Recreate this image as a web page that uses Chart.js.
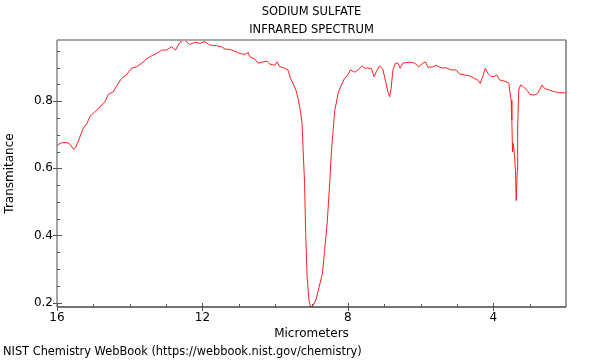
<!DOCTYPE html>
<html>
<head>
<meta charset="utf-8">
<script src="https://cdn.jsdelivr.net/npm/chart.js@4/dist/chart.umd.min.js"></script>
<style>
  html, body { margin: 0; padding: 0; background: #fff; }
  #wrap { width: 600px; height: 360px; }
</style>
</head>
<body>
<div id="wrap"><canvas id="spectrum" width="600" height="360"></canvas></div>
<script>
// wavelength in micrometers
const wavelength = [16.00,15.87,15.73,15.64,15.55,15.49,15.37,15.28,15.18,15.09,
  14.96,14.82,14.68,14.59,14.45,14.36,14.22,14.09,13.95,13.81,
  13.67,13.54,13.40,13.26,13.12,12.99,12.85,12.74,12.62,12.53,
  12.48,12.35,12.21,12.07,11.93,11.80,11.61,11.48,11.38,11.25,
  11.11,10.97,10.84,10.74,10.70,10.56,10.47,10.33,10.22,10.15,
  10.01,9.95,9.87,9.74,9.65,9.58,9.51,9.43,9.37,9.30,
  9.26,9.23,9.19,9.16,9.12,9.07,9.02,8.96,8.87,8.77,
  8.70,8.64,8.57,8.50,8.45,8.36,8.32,8.27,8.18,8.09,
  8.00,7.93,7.81,7.72,7.61,7.54,7.45,7.35,7.28,7.22,
  7.13,7.04,6.96,6.90,6.85,6.81,6.76,6.69,6.62,6.56,
  6.49,6.30,6.16,6.05,5.94,5.86,5.80,5.66,5.57,5.43,
  5.29,5.16,5.02,4.93,4.79,4.65,4.52,4.43,4.36,4.29,
  4.22,4.15,4.06,3.97,3.90,3.83,3.74,3.65,3.57,3.55,
  3.51,3.49,3.47,3.45,3.42,3.39,3.37,3.34,3.33,3.30,
  3.25,3.17,3.08,2.99,2.87,2.78,2.66,2.59,2.46,2.32,
  2.18,2.02];

const transmitance = [0.669,0.676,0.677,0.671,0.657,0.661,0.693,0.719,0.733,0.755,
  0.768,0.783,0.798,0.820,0.828,0.846,0.868,0.878,0.898,0.902,
  0.913,0.925,0.935,0.942,0.952,0.952,0.962,0.952,0.975,0.982,
  0.980,0.969,0.975,0.972,0.977,0.967,0.965,0.962,0.955,0.954,
  0.949,0.942,0.939,0.945,0.932,0.925,0.913,0.917,0.919,0.910,
  0.907,0.917,0.902,0.898,0.893,0.868,0.853,0.833,0.808,0.768,
  0.733,0.654,0.554,0.406,0.276,0.206,0.186,0.191,0.211,0.256,
  0.286,0.355,0.435,0.554,0.654,0.773,0.793,0.823,0.848,0.868,
  0.878,0.893,0.886,0.893,0.905,0.898,0.899,0.896,0.873,0.887,
  0.905,0.896,0.858,0.828,0.813,0.838,0.893,0.913,0.913,0.898,
  0.913,0.916,0.913,0.902,0.913,0.917,0.901,0.902,0.907,0.899,
  0.899,0.893,0.893,0.881,0.878,0.875,0.868,0.863,0.853,0.873,
  0.898,0.883,0.873,0.873,0.878,0.863,0.861,0.858,0.853,0.833,
  0.803,0.743,0.649,0.674,0.644,0.594,0.504,0.594,0.723,0.833,
  0.848,0.843,0.833,0.820,0.818,0.823,0.848,0.838,0.833,0.828,
  0.825,0.825];

const xTicks = [16, 12, 8, 4];
const xMinorTicks = [15, 14, 13, 11, 10, 9, 7, 6, 5, 3];
const yTicks = [0.2, 0.4, 0.6, 0.8];
const yMinorTicks = [0.25, 0.3, 0.35, 0.45, 0.5, 0.55, 0.65, 0.7, 0.75, 0.85, 0.9, 0.95];

const FONT = 'DejaVu Sans';

// frame + inward tick marks, drawn through the scales
const framePlugin = {
    id: 'frame',
    afterDatasetsDraw(chart) {
        const { ctx, chartArea: a, scales: { x, y } } = chart;
        ctx.save();
        ctx.lineWidth = 2;
        ctx.strokeStyle = '#a8a8a8';
        ctx.beginPath(); ctx.moveTo(a.left, a.top); ctx.lineTo(a.right, a.top); ctx.stroke();
        ctx.strokeStyle = '#777';
        ctx.lineWidth = 1.5;
        ctx.beginPath(); ctx.moveTo(a.right, a.top); ctx.lineTo(a.right, a.bottom); ctx.stroke();
        ctx.strokeStyle = '#888';
        ctx.beginPath(); ctx.moveTo(a.left, a.top); ctx.lineTo(a.left, a.bottom); ctx.stroke();
        ctx.strokeStyle = '#444';
        ctx.beginPath(); ctx.moveTo(a.left, a.bottom); ctx.lineTo(a.right, a.bottom); ctx.stroke();

        ctx.lineWidth = 1;
        ctx.strokeStyle = '#555';
        ctx.beginPath();
        xTicks.forEach(v => {
            const px = Math.round(x.getPixelForValue(v)) + 0.5;
            ctx.moveTo(px, a.bottom + 4); ctx.lineTo(px, a.bottom - 4);
        });
        xMinorTicks.forEach(v => {
            const px = Math.round(x.getPixelForValue(v)) + 0.5;
            ctx.moveTo(px, a.bottom); ctx.lineTo(px, a.bottom - 3);
        });
        yTicks.forEach(v => {
            const py = Math.round(y.getPixelForValue(v)) + 0.5;
            ctx.moveTo(a.left - 4, py); ctx.lineTo(a.left + 5, py);
        });
        yMinorTicks.forEach(v => {
            const py = Math.round(y.getPixelForValue(v)) + 0.5;
            ctx.moveTo(a.left, py); ctx.lineTo(a.left + 3, py);
        });
        ctx.stroke();
        ctx.restore();
    }
};

const points = wavelength.map((w, i) => ({ x: w, y: transmitance[i] }));

new Chart(document.getElementById('spectrum').getContext('2d'), {
    type: 'line',
    data: {
        datasets: [{
            data: points,
            borderColor: '#ff2020',
            borderWidth: 1,
            pointRadius: 0,
            fill: false,
            tension: 0
        }]
    },
    options: {
        responsive: false,
        animation: false,
        events: [],
        layout: { padding: { left: 3, right: 34, top: 0, bottom: 0 } },
        plugins: {
            legend: { display: false },
            tooltip: { enabled: false },
            title: {
                display: true,
                text: ['SODIUM SULFATE', 'INFRARED SPECTRUM'],
                fullSize: false,
                color: '#000',
                font: { family: FONT, size: 11.5, weight: 'normal', lineHeight: 18 / 11.5 },
                padding: { top: 3, bottom: 1 }
            },
            subtitle: {
                display: true,
                text: 'NIST Chemistry WebBook (https://webbook.nist.gov/chemistry)',
                position: 'bottom',
                align: 'start',
                color: '#000',
                font: { family: FONT, size: 11.4, weight: 'normal', lineHeight: 14.4 / 11.4 },
                padding: { top: 4, bottom: 1 }
            }
        },
        scales: {
            x: {
                type: 'linear',
                reverse: true,
                min: 2,
                max: 16,
                afterBuildTicks: s => { s.ticks = xTicks.map(v => ({ value: v })); },
                afterFit: s => { s.height = 360 - 307 - 19.4; },
                grid: { display: false, drawTicks: false },
                border: { display: false },
                ticks: {
                    color: '#000',
                    padding: 4,
                    maxRotation: 0,
                    autoSkip: false,
                    font: { family: FONT, size: 12 },
                    callback: v => String(v)
                },
                title: {
                    display: true,
                    text: 'Micrometers',
                    color: '#000',
                    font: { family: FONT, size: 12 },
                    padding: { top: 0, bottom: 0 }
                }
            },
            y: {
                min: 0.187,
                max: 0.982,
                afterBuildTicks: s => { s.ticks = yTicks.map(v => ({ value: v })); },
                afterFit: s => { s.width = 54; },
                grid: { display: false, drawTicks: false },
                border: { display: false },
                ticks: {
                    color: '#000',
                    padding: 4,
                    font: { family: FONT, size: 12 },
                    callback: v => v.toFixed(1)
                },
                title: {
                    display: true,
                    text: 'Transmitance',
                    color: '#000',
                    font: { family: FONT, size: 12 },
                    padding: { top: 0, bottom: 0 }
                }
            }
        }
    },
    plugins: [framePlugin]
});
</script>
</body>
</html>
